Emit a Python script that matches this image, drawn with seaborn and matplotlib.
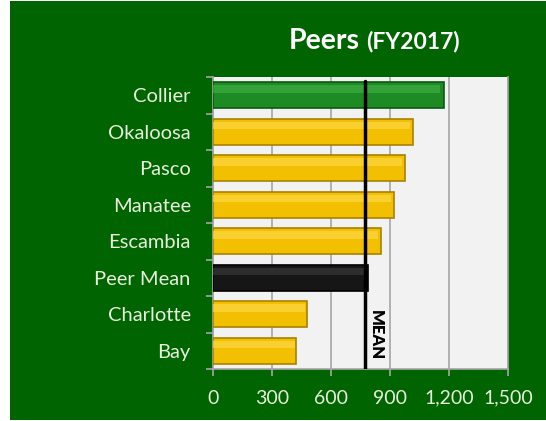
import matplotlib
matplotlib.use("Agg")
import matplotlib.pyplot as plt
import seaborn as sns
import pandas as pd
from matplotlib.patches import Rectangle

counties = ["Collier", "Okaloosa", "Pasco", "Manatee", "Escambia", "Peer Mean", "Charlotte", "Bay"]
values = [1173, 1017, 978, 921, 852, 786, 477, 422]
bar_colors = ["#1E8A24", "#F2C000", "#F2C000", "#F2C000", "#F2C000", "#161616", "#F2C000", "#F2C000"]
edge_colors = ["#0B5A10", "#A88200", "#A88200", "#A88200", "#A88200", "#000000", "#A88200", "#A88200"]
highlight_colors = ["#3FAF45", "#FFD94A", "#FFD94A", "#FFD94A", "#FFD94A", "#3A3A3A", "#FFD94A", "#FFD94A"]
mean_value = 775
x_ticks = [0, 300, 600, 900, 1200, 1500]
x_tick_labels = ["0", "300", "600", "900", "1,200", "1,500"]

sns.set_theme(style="white")
plt.rcParams["font.family"] = ["Lato", "DejaVu Sans"]

GREEN_BG = "#006400"
TEXT = "#E6EEDC"

fig = plt.figure(figsize=(5.46, 4.21), dpi=100)
fig.patch.set_facecolor("white")
fig.patches.append(Rectangle((10 / 546, 1 / 421), 1 - 10 / 546, 1 - 2 / 421,
                             transform=fig.transFigure, facecolor=GREEN_BG,
                             edgecolor="none", zorder=-10))

ax = fig.add_axes([213 / 546, 1 - 369 / 421, (508 - 213) / 546, (369 - 77) / 421])
ax.set_zorder(1)
ax.set_facecolor("#F2F2F2")

df = pd.DataFrame({"county": counties, "value": values})
sns.barplot(data=df, x="value", y="county", hue="county", palette=bar_colors,
            order=counties, legend=False, width=0.72, saturation=1, ax=ax, zorder=3)
bars = list(ax.patches)
for patch, ec, hc in zip(bars, edge_colors, highlight_colors):
    patch.set_edgecolor(ec)
    patch.set_linewidth(1.2)
    x0, y0 = patch.get_x(), patch.get_y()
    w, h = patch.get_width(), patch.get_height()
    ax.add_patch(Rectangle((x0, y0 + h * 0.12), w * 0.985, h * 0.28, facecolor=hc,
                           edgecolor="none", alpha=0.65, zorder=3.5))

ax.set_xlim(0, 1500)
ax.set_ylim(len(counties) - 0.5, -0.5)
ax.set_xticks(x_ticks)
ax.set_xticklabels(x_tick_labels)
ax.xaxis.grid(True, color="#A6A6A6", linewidth=1.2, zorder=1)
ax.set_axisbelow(True)

ax.set_yticks([i - 0.5 for i in range(len(counties) + 1)], minor=True)
ax.tick_params(axis="y", which="minor", length=5, color="#A6A6A6", width=1.2, direction="out", left=True)
ax.tick_params(axis="y", which="major", length=0, labelsize=14.5, labelcolor=TEXT, pad=16)
ax.tick_params(axis="x", which="major", length=5, color="#A6A6A6", width=1.2, direction="out",
               bottom=True, labelsize=14, labelcolor=TEXT, pad=10)
ax.set_xlabel("")
ax.set_ylabel("")

ax.spines["top"].set_visible(False)
for side in ["left", "bottom", "right"]:
    ax.spines[side].set_visible(True)
    ax.spines[side].set_color("#A6A6A6")
    ax.spines[side].set_linewidth(1.2)

ax.axvline(mean_value, color="black", linewidth=2.5, zorder=5, ymin=0, ymax=0.985)
ax.text(mean_value + 12, 6.57, "MEAN", rotation=-90, ha="left", va="center",
        fontsize=12, fontweight="heavy", color="black", zorder=6)

fig.text(360 / 546, 1 - 41 / 421, "Peers", fontsize=20.5, fontweight="bold", color="white",
         ha="right", va="center")
fig.text(366 / 546, 1 - 42 / 421, "(FY2017)", fontsize=16.5, fontweight="bold", color="white",
         ha="left", va="center")

fig.savefig("out.png", dpi=100, facecolor=fig.get_facecolor())
